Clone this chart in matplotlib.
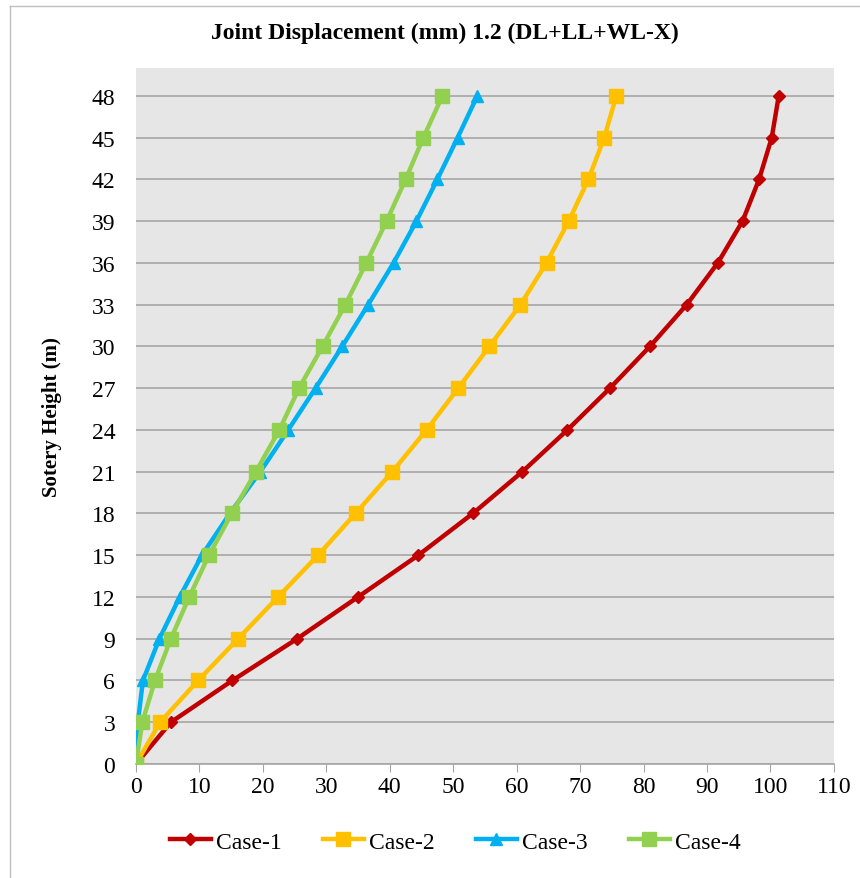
import matplotlib
matplotlib.use("Agg")
import matplotlib.pyplot as plt
import matplotlib.lines as mlines

plt.rcParams['font.family'] = ['Liberation Serif', 'DejaVu Serif']

heights = [0, 3, 6, 9, 12, 15, 18, 21, 24, 27, 30, 33, 36, 39, 42, 45, 48]
case1 = [0, 5.5, 15.2, 25.4, 35.0, 44.5, 53.1, 60.9, 68.0, 74.7, 81.0, 86.8, 91.7, 95.6, 98.2, 100.2, 101.3]
case2 = [0, 3.8, 9.8, 16.1, 22.4, 28.7, 34.6, 40.4, 45.8, 50.8, 55.7, 60.6, 64.7, 68.2, 71.3, 73.8, 75.7]
case3 = [0, 0.3, 1.1, 3.7, 6.9, 10.4, 14.8, 19.6, 24.0, 28.3, 32.5, 36.6, 40.6, 44.2, 47.5, 50.7, 53.8]
case4 = [0, 1.0, 3.0, 5.5, 8.4, 11.5, 15.1, 18.9, 22.6, 25.7, 29.4, 33.0, 36.3, 39.5, 42.5, 45.3, 48.3]
labels = ["Case-1", "Case-2", "Case-3", "Case-4"]
colors = ["#C00000", "#FFC000", "#00B0F0", "#92D050"]
markers = ["D", "s", "^", "s"]
msizes = [6, 10, 9, 10]
x_ticks = list(range(0, 111, 10))
y_ticks = list(range(0, 49, 3))

fig = plt.figure(figsize=(8.6, 8.79), dpi=100)
ax = fig.add_axes([0.1581, 0.1297, 0.8116, 0.7918])
ax.set_facecolor("#E6E6E6")

for data, lab, c, m, ms in zip([case1, case2, case3, case4], labels, colors, markers, msizes):
    ax.plot(data, heights, color=c, lw=3.2, marker=m, markersize=ms, label=lab, zorder=3)

ax.set_xlim(0, 110)
ax.set_ylim(0, 50)
ax.set_xticks(x_ticks)
ax.set_yticks(y_ticks)
ax.yaxis.grid(True, color="#A6A6A6", lw=1.2)
ax.set_axisbelow(True)
for s in ["top", "right", "left"]:
    ax.spines[s].set_visible(False)
ax.spines["bottom"].set_color("#A6A6A6")
ax.spines["bottom"].set_linewidth(1.2)
ax.tick_params(axis="x", direction="out", length=6, color="#A6A6A6", labelsize=17, pad=3)
ax.tick_params(axis="y", length=0, labelsize=17, pad=15)

ax.set_ylabel("Sotery Height (m)", fontsize=15, fontweight="bold", labelpad=21)
fig.text(0.517, 0.962, "Joint Displacement (mm) 1.2 (DL+LL+WL-X)", ha="center", va="center",
         fontsize=17, fontweight="bold")

fig.legend(loc="center", bbox_to_anchor=(0.529, 0.041), ncol=4, frameon=False,
           fontsize=17, handlelength=1.75, columnspacing=1.75, handletextpad=0.2)

fig.lines.append(mlines.Line2D([10/860, 10/860], [0, 1 - 7/879], transform=fig.transFigure,
                               color="#BFBFBF", lw=1))
fig.lines.append(mlines.Line2D([10/860, 1], [1 - 7/879, 1 - 7/879], transform=fig.transFigure,
                               color="#BFBFBF", lw=1))
fig.savefig("out.png", dpi=100)
